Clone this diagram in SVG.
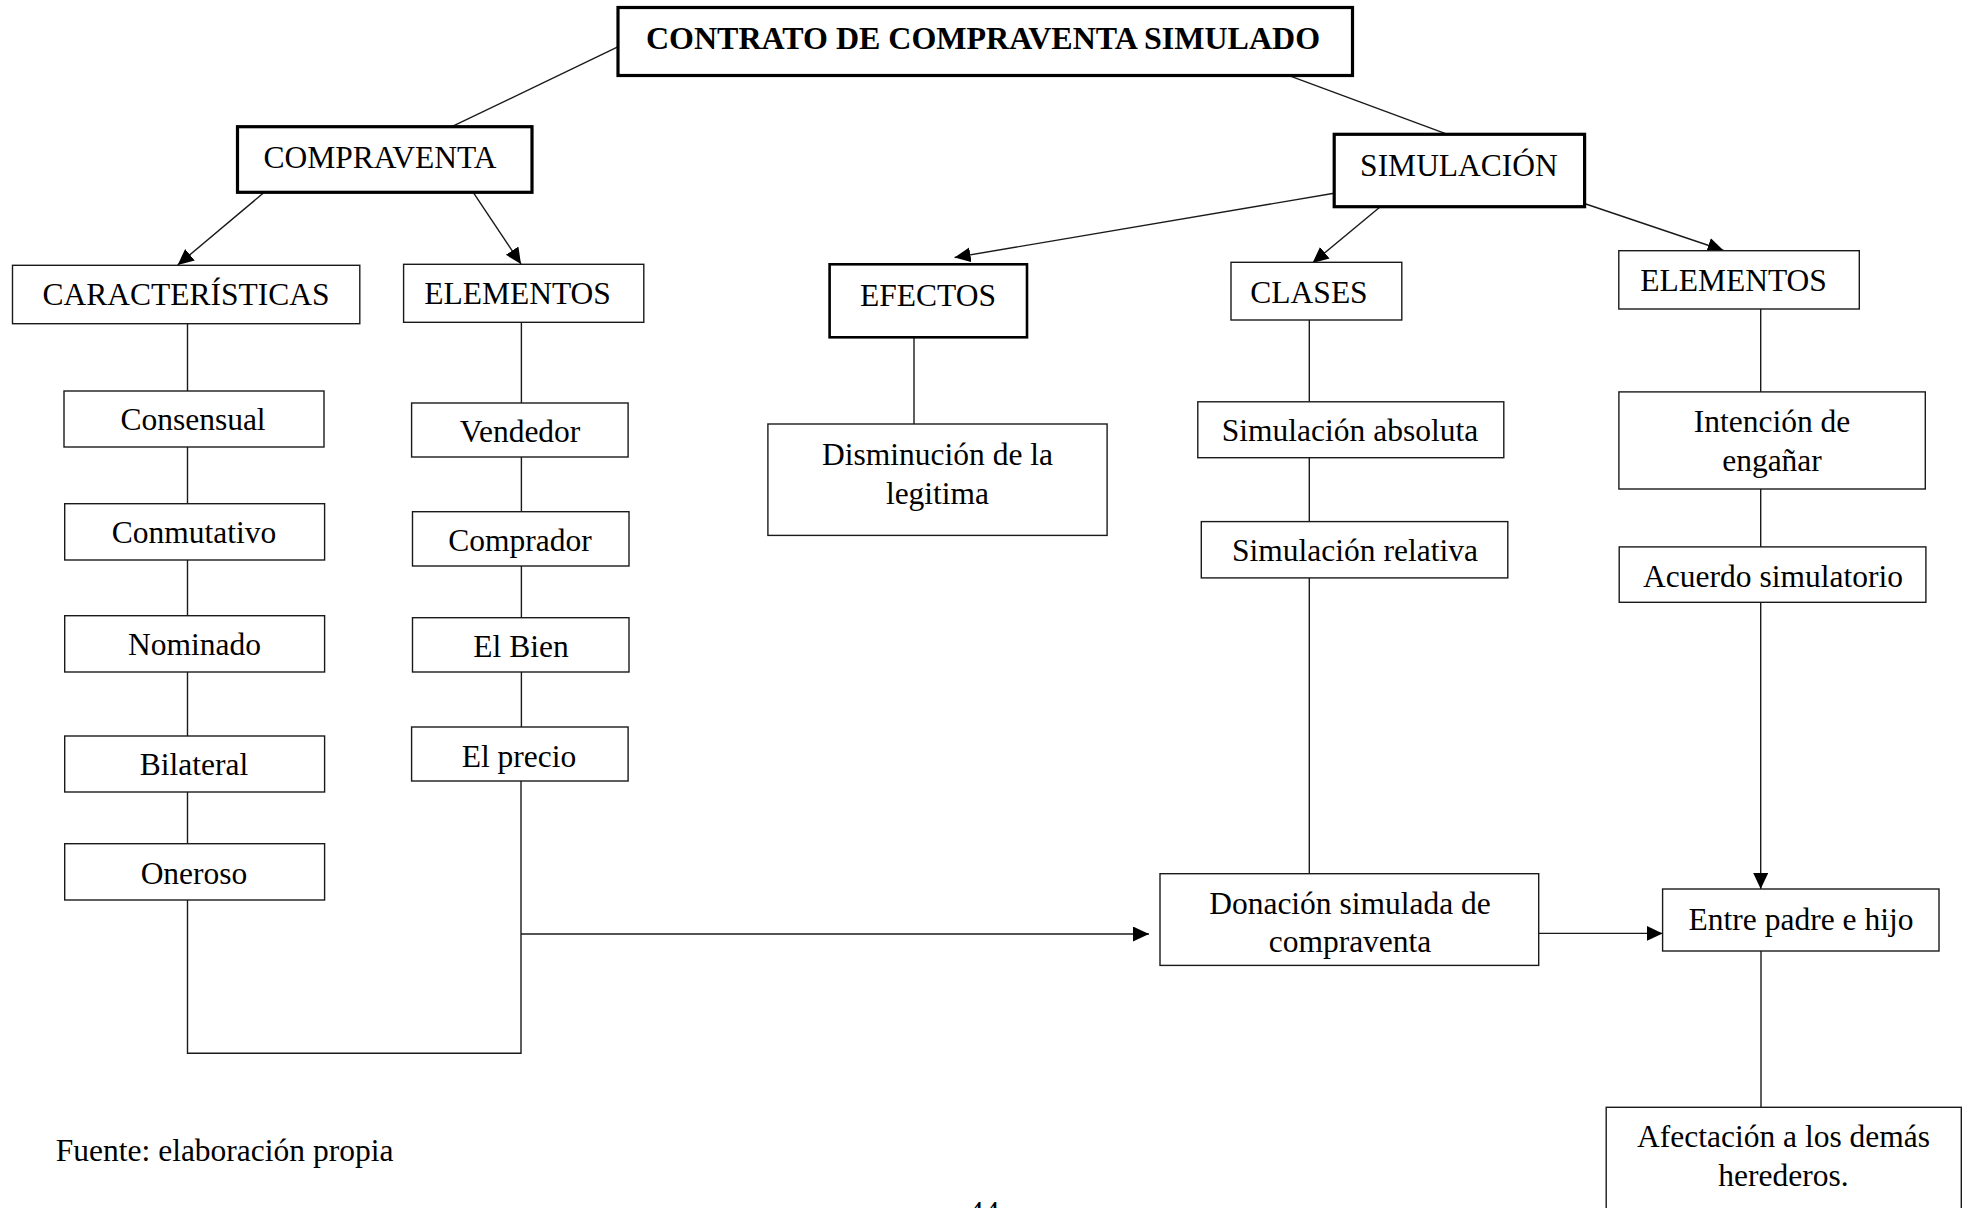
<svg xmlns="http://www.w3.org/2000/svg" width="1971" height="1208" viewBox="0 0 1971 1208">
<defs>
<style>
.box{fill:#fff;stroke:#1a1a1a;stroke-width:1.4}
.thick{fill:#fff;stroke:#000;stroke-width:3.2}
.t{font-family:"Liberation Serif","Times New Roman",serif;font-size:31.5px;fill:#000;text-anchor:middle}
.b{font-weight:bold;font-size:32px}
.l{text-anchor:start}
.c{fill:none;stroke:#1a1a1a;stroke-width:1.4}
.a{marker-end:url(#arr)}
</style>
<marker id="arr" markerUnits="userSpaceOnUse" markerWidth="17" markerHeight="16" refX="16" refY="7.5" orient="auto" viewBox="0 0 17 16">
<path d="M0,0 L16,7.5 L0,15 Z" fill="#000"/>
</marker>
</defs>
<rect width="1971" height="1208" fill="#fff"/>

<g id="connectors">
<line class="c" x1="618.3" y1="46.7" x2="451.8" y2="126.7"/>
<line class="c" x1="1291" y1="76.3" x2="1447.6" y2="134.3"/>
<line class="c a" x1="264.3" y1="192.3" x2="177.7" y2="265"/>
<line class="c a" x1="473.2" y1="192.3" x2="521" y2="264"/>
<line class="c a" x1="1334" y1="193.3" x2="954.6" y2="257.5"/>
<line class="c a" x1="1380.3" y1="206.7" x2="1312.5" y2="263"/>
<line class="c a" x1="1585.8" y1="204" x2="1723.6" y2="250.5"/>
<path class="c" d="M187.5,323.7V391M187.5,447V503.7M187.5,560V615.7M187.5,672V736M187.5,792V843.7M187.5,900V1053.3H521V781"/>
<path class="c" d="M521.4,322.3V403M521.4,457V511.7M521.4,566V617.7M521.4,672V727"/>
<line class="c a" x1="521" y1="934" x2="1149" y2="934"/>
<path class="c" d="M914,337.3V424"/>
<path class="c" d="M1309.3,320V401.8M1309.3,457.7V521.6M1309.3,577.9V873.7"/>
<path class="c" d="M1760.7,309V391.9M1760.7,489V546.9"/>
<line class="c a" x1="1760.7" y1="602.3" x2="1760.7" y2="889"/>
<line class="c a" x1="1538.7" y1="933.4" x2="1662.6" y2="933.4"/>
<path class="c" d="M1761,951V1107.3"/>
</g>

<g id="n-title"><rect class="thick" x="618" y="7.5" width="734.5" height="68"/><text class="t b" x="983" y="49">CONTRATO DE COMPRAVENTA SIMULADO</text></g>
<g id="n-compraventa"><rect class="thick" x="237.5" y="126.7" width="294.5" height="65.6"/><text class="t" x="380" y="168">COMPRAVENTA</text></g>
<g id="n-caracteristicas"><rect class="box" x="12.5" y="265.3" width="347.3" height="58.4"/><text class="t" x="186" y="305">CARACTERÍSTICAS</text></g>
<g id="n-elementos1"><rect class="box" x="403.6" y="264.3" width="240.2" height="58"/><text class="t" x="517.5" y="304.3">ELEMENTOS</text></g>
<g id="n-consensual"><rect class="box" x="64" y="391" width="260" height="56"/><text class="t" x="193" y="430">Consensual</text></g>
<g id="n-conmutativo"><rect class="box" x="64.7" y="503.7" width="259.9" height="56.3"/><text class="t" x="194" y="543">Conmutativo</text></g>
<g id="n-nominado"><rect class="box" x="64.7" y="615.7" width="259.9" height="56.3"/><text class="t" x="194.5" y="655">Nominado</text></g>
<g id="n-bilateral"><rect class="box" x="64.7" y="736" width="259.9" height="56"/><text class="t" x="194" y="775">Bilateral</text></g>
<g id="n-oneroso"><rect class="box" x="64.7" y="843.7" width="259.9" height="56.3"/><text class="t" x="194" y="884">Oneroso</text></g>
<g id="n-vendedor"><rect class="box" x="411.6" y="403" width="216.5" height="54"/><text class="t" x="520" y="442">Vendedor</text></g>
<g id="n-comprador"><rect class="box" x="412.5" y="511.7" width="216.5" height="54.3"/><text class="t" x="520" y="551">Comprador</text></g>
<g id="n-elbien"><rect class="box" x="412.5" y="617.7" width="216.5" height="54.3"/><text class="t" x="521" y="656.7">El Bien</text></g>
<g id="n-elprecio"><rect class="box" x="411.6" y="727" width="216.5" height="54"/><text class="t" x="519" y="766.7">El precio</text></g>
<g id="n-simulacion"><rect class="thick" x="1334.2" y="134.3" width="250.4" height="72.4"/><text class="t" x="1459" y="175.7">SIMULACIÓN</text></g>
<g id="n-efectos"><rect class="thick" style="stroke-width:2.6" x="829.6" y="264.3" width="197.4" height="73"/><text class="t" x="928" y="305.7">EFECTOS</text></g>
<g id="n-clases"><rect class="box" x="1231" y="262.3" width="170.8" height="57.7"/><text class="t" x="1309" y="302.7">CLASES</text></g>
<g id="n-elementos2"><rect class="box" x="1618.8" y="250.7" width="240.5" height="58.3"/><text class="t" x="1733.5" y="291">ELEMENTOS</text></g>
<g id="n-disminucion"><rect class="box" x="767.9" y="424" width="339.2" height="111.4"/><text class="t" x="937.5" y="465">Disminución de la</text><text class="t" x="937.5" y="503.5">legitima</text></g>
<g id="n-absoluta"><rect class="box" x="1197.8" y="401.8" width="306" height="55.9"/><text class="t" x="1350" y="441">Simulación absoluta</text></g>
<g id="n-relativa"><rect class="box" x="1201.3" y="521.6" width="306.5" height="56.3"/><text class="t" x="1355" y="561">Simulación relativa</text></g>
<g id="n-donacion"><rect class="box" x="1160" y="873.7" width="378.7" height="91.7"/><text class="t" x="1350" y="914">Donación simulada de</text><text class="t" x="1350" y="952">compraventa</text></g>
<g id="n-intencion"><rect class="box" x="1618.9" y="391.9" width="306.4" height="97.1"/><text class="t" x="1772" y="431.7">Intención de</text><text class="t" x="1772" y="471">engañar</text></g>
<g id="n-acuerdo"><rect class="box" x="1619.2" y="546.9" width="306.7" height="55.4"/><text class="t" x="1773" y="586.7">Acuerdo simulatorio</text></g>
<g id="n-entre"><rect class="box" x="1662.6" y="889" width="276.4" height="62"/><text class="t" x="1801" y="930">Entre padre e hijo</text></g>
<g id="n-afectacion"><rect class="box" x="1606.2" y="1107.3" width="355.1" height="150"/><text class="t" x="1783.5" y="1147.3">Afectación a los demás</text><text class="t" x="1783.5" y="1186">herederos.</text></g>

<text class="t l" x="55.8" y="1160.7">Fuente: elaboración propia</text>
<text class="t l" x="968" y="1223">44</text>
</svg>
